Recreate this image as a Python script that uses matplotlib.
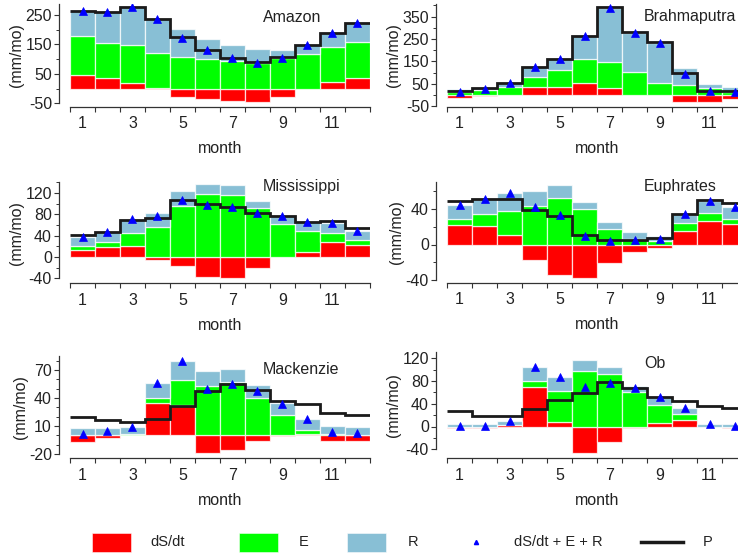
import numpy as np
import matplotlib
matplotlib.use("Agg")
import matplotlib.pyplot as plt
from matplotlib.patches import Rectangle
from matplotlib.lines import Line2D

plt.rcParams['font.family'] = ['Liberation Sans', 'DejaVu Sans']
plt.rcParams['axes.unicode_minus'] = False

months = np.arange(1, 13)
month_labels = ['1', '3', '5', '7', '9', '11']

# ---- data (mm/mo) ----
amazon_dS = [46, 37, 21, 3, -29, -36, -43, -45, -27, 0, 24, 35]
amazon_E = [132, 119, 127, 117, 108, 99, 95, 88, 103, 116, 118, 124]
amazon_R = [85, 103, 128, 116, 93, 68, 53, 45, 28, 32, 46, 65]
amazon_P = [262, 259, 276, 236, 174, 131, 105, 91, 106, 148, 190, 224]

brahma_dS = [-14, -4, 2, 34, 34, 52, 33, 2, 0, -30, -30, -19]
brahma_E = [12, 22, 32, 48, 78, 107, 113, 102, 55, 45, 30, 15]
brahma_R = [16, 8, 20, 44, 49, 105, 244, 175, 176, 77, 17, 19]
brahma_P = [17, 30, 52, 126, 159, 263, 391, 280, 235, 97, 19, 19]

missi_dS = [14, 19, 21, -5, -16, -38, -40, -21, 0, 9, 28, 22]
missi_E = [6, 9, 24, 56, 96, 118, 117, 92, 62, 40, 17, 10]
missi_R = [17, 19, 26, 26, 27, 18, 17, 12, 15, 16, 19, 16]
missi_P = [42, 47, 69, 73, 106, 99, 93, 83, 77, 66, 68, 54]

euph_dS = [22, 21, 11, -18, -34, -38, -21, -9, -4, 15, 27, 23]
euph_E = [7, 13, 27, 43, 52, 40, 17, 6, 4, 9, 8, 6]
euph_R = [16, 17, 20, 17, 15, 8, 8, 8, 6, 10, 14, 13]
euph_P = [49, 51, 51, 39, 32, 11, 4.6, 4.6, 7, 34, 50, 46.5]

mack_dS = [-7, -3, 0, 35, 32, -19, -16, -6, -1, 1, -6, -6]
mack_E = [0, 0, 1, 5, 27, 53, 57, 40, 22, 5, 1, 0]
mack_R = [8, 7.5, 8, 16, 21, 16, 14, 14, 13, 11, 9, 9]
mack_P = [20, 16.4, 14.6, 17, 31, 47, 55, 48.6, 37, 33.6, 24, 22]

ob_dS = [-3, -3, 2, 69, 8, -47, -28, -3, 7, 12, -1, -3]
ob_E = [0, 0, 1, 11, 55, 97, 92, 61, 30, 10, 0, 0]
ob_R = [4, 4, 7, 25, 24, 19, 13, 10, 14, 11, 5, 4]
ob_P = [28, 19, 17.6, 30, 45.7, 58.5, 78, 68.5, 51.5, 45, 36, 33]

names = ['Amazon', 'Brahmaputra', 'Mississippi', 'Euphrates', 'Mackenzie', 'Ob']
series = [
    (amazon_dS, amazon_E, amazon_R, amazon_P),
    (brahma_dS, brahma_E, brahma_R, brahma_P),
    (missi_dS, missi_E, missi_R, missi_P),
    (euph_dS, euph_E, euph_R, euph_P),
    (mack_dS, mack_E, mack_R, mack_P),
    (ob_dS, ob_E, ob_R, ob_P),
]
yticks_major = [
    [-50, 50, 150, 250],
    [-50, 50, 150, 250, 350],
    [-40, 0, 40, 80, 120],
    [-40, 0, 40],
    [-20, 10, 40, 70],
    [-40, 0, 40, 80, 120],
]
yticks_minor_step = [50, 50, 20, 20, 10, 20]

# ---- layout in pixels: (left, zero_y, px_per_unit, bottom, top) ----
W, H = 738, 557
layout = [
    (70, 88.7, 0.295, 106.7, 4),
    (447, 95.0, 0.224, 106.7, 4),
    (70, 257.0, 0.534, 283.3, 182),
    (447, 244.5, 0.8875, 282.7, 182),
    (70, 435.3, 0.933, 458.3, 356),
    (447, 426.5, 0.569, 458.3, 352),
]
title_y_px = [17, 17, 187, 186, 370, 363]

RED = '#FF0000'
GREEN = '#00FF00'
BLUE = '#88BFD5'
TRI = '#0000FF'
TXT = '#222222'
FS = 11.5

fig = plt.figure(figsize=(W / 100, H / 100), dpi=100)

for i, (name, (dS, E, R, P)) in enumerate(zip(names, series)):
    left, zero, ppu, bot, top = layout[i]
    ax = fig.add_axes([left / W, 1 - bot / H, 300 / W, (bot - top) / H])
    dS = np.array(dS, float); E = np.array(E, float); R = np.array(R, float)
    base = np.maximum(dS, 0)
    ek = dict(width=1.0, edgecolor=(1, 1, 1, 0.75), linewidth=0.9)
    ax.bar(months, dS, bottom=0, color=RED, **ek)
    ax.bar(months, E, bottom=base, color=GREEN, **ek)
    ax.bar(months, R, bottom=base + E, color=BLUE, **ek)
    ax.stairs(P, edges=np.arange(0.5, 13.5, 1.0), baseline=None,
              color='#1a1a1a', linewidth=2.0, zorder=3)
    ax.plot(months, dS + E + R, '^', color=TRI, markersize=6, zorder=4,
            markeredgewidth=0.5)

    ymin = (zero - bot) / ppu
    ymax = (zero - top) / ppu
    ax.set_ylim(ymin, ymax)
    ax.set_xlim(0.5, 12.5)

    for s in ['top', 'right']:
        ax.spines[s].set_visible(False)
    ax.spines['left'].set_position(('outward', 8))
    ax.spines['left'].set_bounds(yticks_major[i][0], ymax)
    ax.spines['bottom'].set_bounds(0.5, 12.5)
    for s in ['left', 'bottom']:
        ax.spines[s].set_linewidth(0.9)
        ax.spines[s].set_color('#333333')

    ax.set_yticks(yticks_major[i])
    step = yticks_minor_step[i]
    minors = np.arange(yticks_major[i][0], ymax, step)
    ax.set_yticks([m for m in minors if m not in yticks_major[i]], minor=True)
    ax.tick_params(axis='y', which='major', direction='out', length=3.5,
                   width=0.8, pad=1.5, labelsize=FS, colors='#333333',
                   labelcolor=TXT)
    ax.tick_params(axis='y', which='minor', direction='out', length=2.5,
                   width=0.7, colors='#333333')

    ax.set_xticks(months[::2])
    ax.set_xticklabels(month_labels)
    ax.set_xticks(np.arange(0.5, 13.0, 1.0), minor=True)
    ax.tick_params(axis='x', which='major', length=0, pad=7, labelsize=FS,
                   labelcolor=TXT)
    ax.tick_params(axis='x', which='minor', direction='out', length=3.5,
                   width=0.8, colors='#333333')

    ax.set_xlabel('month', fontsize=FS, color=TXT, labelpad=7)
    ax.set_ylabel('(mm/mo)', fontsize=FS, color=TXT, labelpad=1)

    tx = 0.643 if left < 200 else 0.657
    ax.text(tx, (bot - title_y_px[i]) / (bot - top), name, transform=ax.transAxes,
            fontsize=FS, color=TXT, ha='left', va='center')

# ---- legend (figure pixels) ----
def fx(x):
    return x / W

def fy(y):
    return 1 - y / H

ly = 542
kw = dict(transform=fig.transFigure, fontsize=10.5, color=TXT, va='center', ha='left')
for x0, col, lab, tx in [(92, RED, 'dS/dt', 150), (239, GREEN, 'E', 299), (347, BLUE, 'R', 408)]:
    fig.patches.append(Rectangle((fx(x0), fy(551.5)), 39 / W, 19 / H, transform=fig.transFigure,
                                 facecolor=col, edgecolor=(1, 1, 1, 0.6), linewidth=0.6))
    fig.text(fx(tx), fy(ly), lab, **kw)
fig.lines.append(Line2D([fx(476)], [fy(ly)], marker='^', color=TRI, markersize=3,
                        linestyle='none', transform=fig.transFigure))
fig.text(fx(514), fy(ly), 'dS/dt + E + R', **kw)
fig.lines.append(Line2D([fx(641), fx(683)], [fy(ly), fy(ly)], color='#1a1a1a', linewidth=2.5,
                        transform=fig.transFigure))
fig.text(fx(703), fy(ly), 'P', **kw)

fig.savefig('out.png', dpi=100)
